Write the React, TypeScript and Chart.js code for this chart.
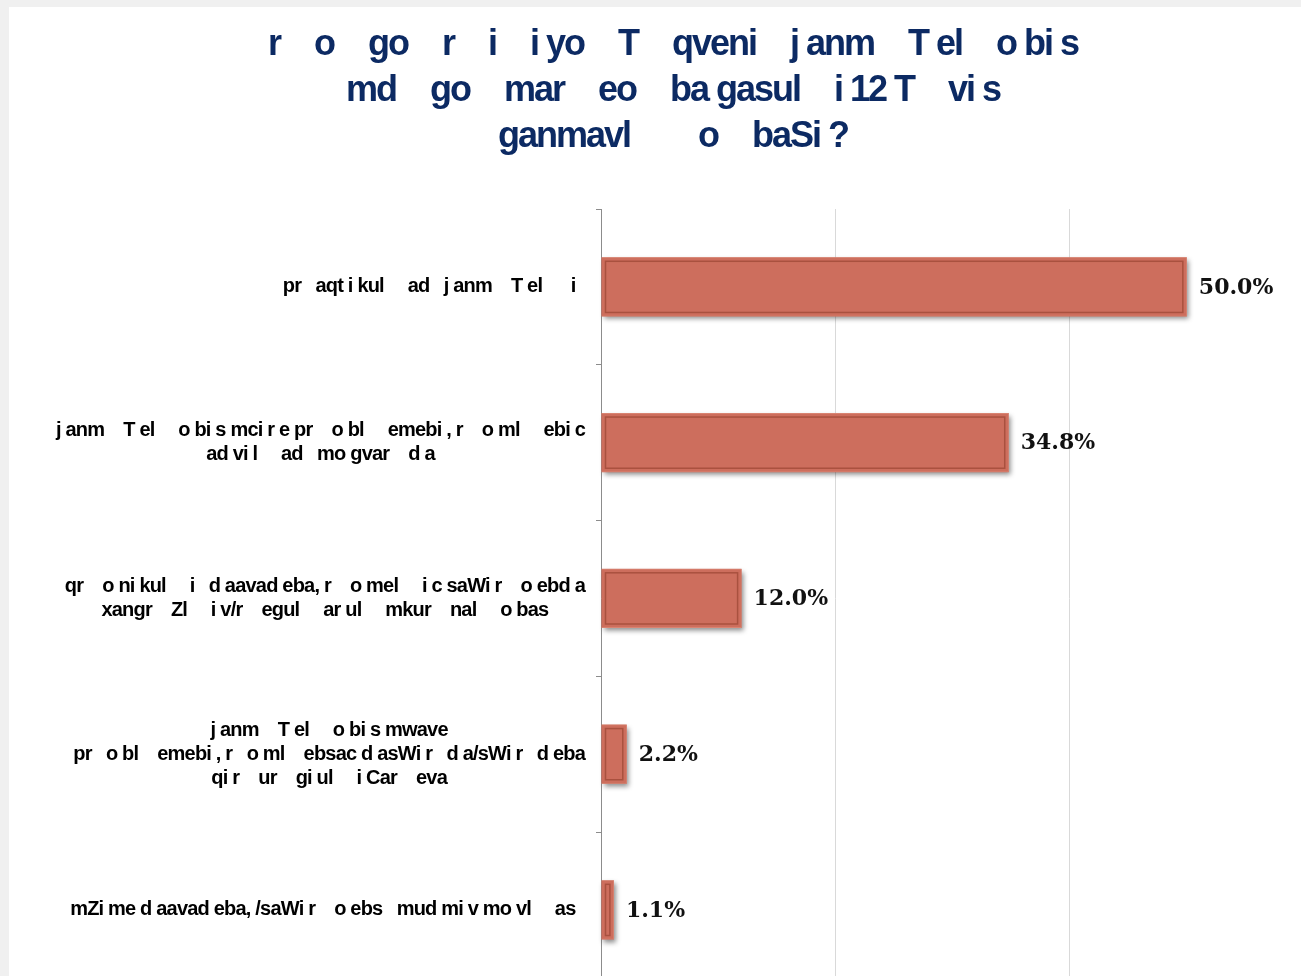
import React, { useEffect, useRef } from "react";
import { Chart, registerables } from "chart.js";

Chart.register(...registerables);

const G = "\u2003"; // wide gap left by the missing Georgian glyphs

const titleLines: string[] = [
  `r${G}o${G}go${G}r${G}i${G}i yo${G}T${G}qveni${G}j anm${G}T el${G}o bi s`,
  `md${G}go${G}mar${G}eo${G}ba gasul${G}i 12 T${G}vi s`,
  `ganmavl${G}${G}o${G}baSi ?`,
];

const categories: string[][] = [
  ["pr   aqt i kul     ad   j anm    T el      i  "],
  [
    "j anm    T el     o bi s mci r e pr    o bl     emebi , r    o ml     ebi c",
    "ad vi l     ad   mo gvar    d a",
  ],
  [
    "qr    o ni kul     i   d aavad eba, r    o mel     i c saWi r    o ebd a",
    "xangr    Zl     i v/r    egul     ar ul     mkur    nal     o bas",
  ],
  [
    "j anm    T el     o bi s mwave",
    "pr   o bl    emebi , r   o ml    ebsac d asWi r   d a/sWi r   d eba",
    "qi r    ur    gi ul     i Car    eva",
  ],
  ["mZi me d aavad eba, /saWi r    o ebs   mud mi v mo vl     as  "],
];

const values: number[] = [50.0, 34.8, 12.0, 2.2, 1.1];

const xMin = 0;
const xMax = 60;
const xStep = 20;

const BAR_COLOR = "#CD6E5D";
const BAR_BORDER = "#D98472";
const BAR_INNER = "#A9513F";

const CANVAS_W = 1328;
const CANVAS_H = 1006;

const customDraw = {
  id: "customDraw",
  beforeDatasetsDraw(chart: any) {
    const ctx = chart.ctx;
    const meta = chart.getDatasetMeta(0);
    ctx.save();
    meta.data.forEach((bar: any) => {
      const p = bar.getProps(["x", "y", "base", "height"], true);
      const left = Math.min(p.base, p.x);
      const w = Math.abs(p.x - p.base);
      ctx.shadowColor = "rgba(0,0,0,0.45)";
      ctx.shadowBlur = 5;
      ctx.shadowOffsetX = 2;
      ctx.shadowOffsetY = 3;
      ctx.fillStyle = BAR_COLOR;
      ctx.fillRect(left, p.y - p.height / 2, w, p.height);
    });
    ctx.restore();
  },
  afterDatasetsDraw(chart: any) {
    const ctx = chart.ctx;
    const meta = chart.getDatasetMeta(0);
    ctx.save();
    meta.data.forEach((bar: any, i: number) => {
      const p = bar.getProps(["x", "y", "base", "height"], true);
      const left = Math.min(p.base, p.x);
      const w = Math.abs(p.x - p.base);
      const inset = 4;
      if (w > inset * 2) {
        ctx.strokeStyle = BAR_INNER;
        ctx.lineWidth = 1.5;
        ctx.strokeRect(left + inset, p.y - p.height / 2 + inset, w - inset * 2, p.height - inset * 2);
      }
      ctx.fillStyle = "#111111";
      ctx.font = "bold 22px 'DejaVu Serif', serif";
      ctx.textAlign = "left";
      ctx.textBaseline = "middle";
      ctx.fillText(values[i].toFixed(1) + "%", p.x + 12, p.y + 1);
    });

    // category labels, each block right-aligned, lines centred on one another
    const yScale = chart.scales.y;
    const right = chart.chartArea.left - 16;
    ctx.font = "bold 20px 'Liberation Sans', Arial, sans-serif";
    try {
      (ctx as any).letterSpacing = "-0.8px";
    } catch (e) {}
    ctx.fillStyle = "#000000";
    ctx.textAlign = "center";
    ctx.textBaseline = "middle";
    const lh = 24;
    categories.forEach((lines, i) => {
      const yc = yScale.getPixelForValue(i);
      let maxW = 0;
      lines.forEach((l) => {
        maxW = Math.max(maxW, ctx.measureText(l).width);
      });
      const cx = right - maxW / 2;
      const startY = yc - ((lines.length - 1) * lh) / 2;
      lines.forEach((l, k) => {
        ctx.fillText(l, cx, startY + k * lh);
      });
    });
    ctx.restore();
  },
};

export default function App() {
  const canvasRef = useRef<HTMLCanvasElement | null>(null);

  useEffect(() => {
    document.body.style.margin = "0";
    document.body.style.background = "#f0f0f0";
    const canvas = canvasRef.current;
    if (!canvas) return;
    const chart = new Chart(canvas, {
      type: "bar",
      data: {
        labels: categories.map((c) => c.join(" ")),
        datasets: [
          {
            data: values,
            backgroundColor: BAR_COLOR,
            borderColor: BAR_BORDER,
            borderWidth: 1,
            categoryPercentage: 1,
            barPercentage: 0.38,
          },
        ],
      },
      options: {
        indexAxis: "y",
        animation: false,
        responsive: false,
        devicePixelRatio: 1,
        layout: { padding: { top: 202, right: 33, left: 0, bottom: 0 } },
        plugins: {
          legend: { display: false },
          tooltip: { enabled: false },
          title: { display: false },
        },
        scales: {
          x: {
            min: xMin,
            max: xMax,
            ticks: {
              stepSize: xStep,
              callback: (v: any) => v + "%",
              font: { size: 16, family: "'Liberation Sans', Arial, sans-serif" },
              color: "#000",
            },
            grid: { color: "#d9d9d9", lineWidth: 1, drawTicks: false },
            border: { display: false },
          },
          y: {
            ticks: { display: false },
            grid: {
              drawOnChartArea: false,
              drawTicks: true,
              tickLength: 5,
              color: "#8c8c8c",
              offset: true,
            },
            border: { display: true, color: "#8c8c8c", width: 1 },
            afterFit: (scale: any) => {
              scale.width = 592;
            },
          },
        },
      },
      plugins: [customDraw],
    });
    return () => chart.destroy();
  }, []);

  return (
    <div
      style={{
        position: "relative",
        width: 1301,
        height: 976,
        overflow: "hidden",
        background: "#f0f0f0",
      }}
    >
      <div
        style={{
          position: "absolute",
          left: 9,
          top: 7,
          width: CANVAS_W,
          height: 1100,
          background: "#ffffff",
        }}
      >
        <canvas
          ref={canvasRef}
          width={CANVAS_W}
          height={CANVAS_H}
          style={{ position: "absolute", left: 0, top: 0, width: CANVAS_W, height: CANVAS_H }}
        />
        <div
          style={{
            position: "absolute",
            left: 0,
            top: 13,
            width: CANVAS_W,
            textAlign: "center",
            fontFamily: "'Liberation Sans', Arial, sans-serif",
            fontWeight: "bold",
            fontSize: 36,
            lineHeight: "46px",
            letterSpacing: "-2px",
            color: "#0C2A63",
            whiteSpace: "pre",
          }}
        >
          {titleLines.map((l, i) => (
            <div key={i}>{l}</div>
          ))}
        </div>
      </div>
    </div>
  );
}
